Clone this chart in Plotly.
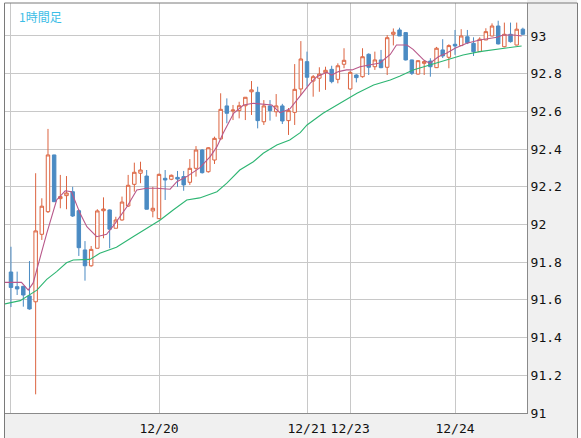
import plotly.graph_objects as go

# 1時間足  (index 0 = 12/19 00:00)
idx = list(range(84))
opn = [91.748, 91.670, 91.672, 91.621, 91.590, 91.948, 92.068, 92.369, 92.137, 92.153,
       92.174, 92.073, 91.865, 91.781, 91.874, 92.073, 92.077, 91.980, 92.024, 92.098,
       92.213, 92.272, 92.257, 92.072, 92.031, 92.245, 92.240, 92.250, 92.254, 92.224,
       92.298, 92.395, 92.280, 92.342, 92.454, 92.629, 92.602, 92.604, 92.630, 92.704,
       92.701, 92.545, 92.629, 92.598, 92.629, 92.551, 92.595, 92.719, 92.864, 92.761,
       92.776, 92.805, 92.823, 92.770, 92.850, 92.719, 92.793, 92.784, 92.903, 92.837,
       92.873, 92.834, 93.009, 93.032, 93.018, 92.873, 92.798, 92.855, 92.867, 92.832,
       92.926, 92.887, 92.956, 92.949, 92.996, 92.961, 92.917, 92.979, 93.000, 93.053,
       92.943, 93.009, 92.952, 93.036]
high = [91.882, 91.750, 91.674, 91.806, 92.272, 92.139, 92.507, 92.370, 92.263, 92.257,
        92.200, 92.080, 91.912, 91.886, 92.081, 92.144, 92.080, 92.041, 92.148, 92.263,
        92.328, 92.333, 92.289, 92.200, 92.270, 92.289, 92.265, 92.284, 92.284, 92.347,
        92.416, 92.400, 92.410, 92.466, 92.696, 92.669, 92.634, 92.651, 92.676, 92.761,
        92.731, 92.660, 92.660, 92.692, 92.640, 92.618, 92.851, 92.973, 92.917, 92.793,
        92.834, 92.837, 92.842, 92.855, 92.935, 92.814, 92.797, 92.935, 92.908, 92.917,
        92.926, 93.005, 93.040, 93.044, 93.020, 92.875, 92.870, 92.873, 92.882, 92.942,
        92.983, 92.956, 93.032, 93.036, 93.032, 92.993, 92.993, 93.041, 93.067, 93.081,
        93.071, 93.071, 93.071, 93.044]
low = [91.562, 91.626, 91.564, 91.548, 91.099, 91.918, 92.061, 92.120, 92.086, 92.081,
       92.040, 91.833, 91.702, 91.776, 91.874, 91.927, 91.874, 91.980, 92.020, 92.093,
       92.174, 92.219, 92.080, 92.038, 92.030, 92.130, 92.235, 92.200, 92.179, 92.210,
       92.254, 92.270, 92.275, 92.321, 92.448, 92.537, 92.554, 92.563, 92.554, 92.581,
       92.510, 92.528, 92.551, 92.572, 92.533, 92.475, 92.528, 92.687, 92.731, 92.678,
       92.704, 92.714, 92.749, 92.749, 92.829, 92.714, 92.754, 92.779, 92.793, 92.820,
       92.829, 92.793, 92.950, 93.000, 92.870, 92.793, 92.795, 92.793, 92.784, 92.830,
       92.883, 92.829, 92.900, 92.947, 92.957, 92.894, 92.915, 92.978, 92.998, 92.955,
       92.940, 92.965, 92.950, 93.005]
close = [91.666, 91.658, 91.626, 91.552, 91.966, 92.097, 92.369, 92.121, 92.148, 92.167,
         92.045, 91.877, 91.781, 91.868, 92.072, 92.082, 91.975, 92.024, 92.119, 92.208,
         92.277, 92.289, 92.081, 92.086, 92.266, 92.236, 92.261, 92.241, 92.210, 92.298,
         92.395, 92.275, 92.407, 92.457, 92.611, 92.590, 92.607, 92.630, 92.675, 92.714,
         92.551, 92.629, 92.604, 92.629, 92.549, 92.604, 92.717, 92.878, 92.781, 92.784,
         92.798, 92.818, 92.758, 92.842, 92.871, 92.807, 92.779, 92.890, 92.834, 92.873,
         92.832, 92.991, 93.020, 93.000, 92.873, 92.802, 92.869, 92.864, 92.837, 92.935,
         92.894, 92.949, 92.947, 93.000, 92.964, 92.917, 92.983, 93.023, 93.053, 92.958,
         93.009, 92.970, 93.036, 93.009]

# 短期移動平均 (読み取り値)
ma_s_x = [-1.1, 1.7, 2.8, 3.6, 5.8, 7.4, 8.8, 9.8, 11.2, 12.3, 13.9, 15.5, 16.9, 18.8,
          20.4, 22.0, 23.6, 25.8, 26.9, 28.5, 30.6, 32.3, 33.4, 34.4, 36.1, 37.7, 39.3,
          40.9, 42.3, 43.6, 45.2, 46.9, 48.5, 49.6, 51.2, 52.0, 53.1, 54.4, 55.3, 56.6,
          58.2, 59.8, 61.5, 62.5, 64.2, 65.2, 66.9, 67.9, 69.3, 70.6, 72.0, 73.9, 76.0,
          77.7, 78.8, 79.8, 81.5, 82.8]
ma_s = [91.693, 91.693, 91.652, 91.690, 91.953, 92.130, 92.179, 92.174, 92.059, 91.988,
        91.935, 91.948, 92.006, 92.094, 92.183, 92.192, 92.192, 92.187, 92.227, 92.254,
        92.300, 92.360, 92.413, 92.484, 92.590, 92.634, 92.643, 92.638, 92.634, 92.593,
        92.612, 92.682, 92.749, 92.784, 92.807, 92.793, 92.811, 92.820, 92.820, 92.837,
        92.846, 92.857, 92.902, 92.952, 92.952, 92.929, 92.873, 92.855, 92.890, 92.908,
        92.935, 92.961, 92.979, 92.988, 92.993, 93.005, 93.005, 93.000]

# 長期移動平均 (読み取り値)
ma_l_x = [-1.1, 1.5, 4.2, 5.8, 7.4, 9.0, 10.1, 12.8, 14.4, 17.1, 19.8, 22.0, 24.2, 26.3,
          28.5, 30.6, 33.4, 35.0, 37.1, 39.3, 40.9, 43.1, 45.2, 46.9, 48.0, 50.6, 53.4,
          56.1, 58.8, 61.5, 63.1, 65.2, 67.9, 70.6, 73.3, 76.0, 78.8, 81.5, 82.8]
ma_l = [91.578, 91.596, 91.652, 91.709, 91.750, 91.797, 91.812, 91.815, 91.847, 91.879,
        91.935, 91.980, 92.024, 92.077, 92.130, 92.141, 92.174, 92.219, 92.289, 92.333,
        92.378, 92.422, 92.448, 92.487, 92.528, 92.590, 92.643, 92.696, 92.740, 92.767,
        92.788, 92.820, 92.846, 92.873, 92.899, 92.917, 92.929, 92.940, 92.947]

tick_pos = [0, 24, 48, 55, 72]
tick_text = ["", "12/20", "12/21", "12/23", "12/24"]

RED = "#dc6440"
BLUE = "#4b8bc3"
W, H = 581, 438
L, R, T, B = 5, 54, 3, 25
pw, ph = W - L - R, H - T - B

def px(x):
    return (x - L) / pw

def py(y):
    return (H - B - y) / ph

fig = go.Figure()
fig.add_trace(go.Candlestick(
    x=idx, open=opn, high=high, low=low, close=close,
    increasing=dict(line=dict(color=RED, width=1), fillcolor="white"),
    decreasing=dict(line=dict(color=BLUE, width=1), fillcolor=BLUE),
    whiskerwidth=0, hoverinfo="skip"))
fig.add_trace(go.Scatter(x=ma_l_x, y=ma_l, mode="lines",
                         line=dict(color="#2db572", width=1.1), hoverinfo="skip"))
fig.add_trace(go.Scatter(x=ma_s_x, y=ma_s, mode="lines",
                         line=dict(color="#b8588a", width=1.1), hoverinfo="skip"))

axfont = dict(family="DejaVu Sans Mono", size=13, color="#111")
fig.update_xaxes(range=[-0.97, 83.67], tickvals=tick_pos, ticktext=tick_text,
                 showgrid=True, gridcolor="#c8c8c8", gridwidth=1, zeroline=False,
                 showline=True, linecolor="#8a8a8a", ticks="", tickfont=axfont,
                 ticklabelstandoff=3, rangeslider_visible=False)
fig.update_yaxes(side="right", range=[91.0, 93.175], tick0=91, dtick=0.2,
                 showgrid=True, gridcolor="#c8c8c8", gridwidth=1, zeroline=False,
                 showline=True, linecolor="#8a8a8a", ticks="", tickfont=axfont)

shapes = [
    # 右と下のグレー領域
    dict(type="rect", xref="paper", yref="paper", x0=1, x1=px(577), y0=py(H + 2), y1=py(0),
         fillcolor="#f0f0f0", line_width=0, layer="below"),
    dict(type="rect", xref="paper", yref="paper", x0=px(4), x1=1, y0=py(H + 2), y1=0,
         fillcolor="#f0f0f0", line_width=0, layer="below"),
    # 外枠
    dict(type="rect", xref="paper", yref="paper", x0=px(4.5), x1=px(577.5), y0=py(H + 5), y1=1,
         line=dict(color="#7a7a7a", width=1), fillcolor="rgba(0,0,0,0)", layer="above"),
]

fig.update_layout(
    width=W, height=H, margin=dict(l=L, r=R, t=T, b=B, pad=0),
    paper_bgcolor="white", plot_bgcolor="white",
    showlegend=False, hovermode=False, boxgap=0.2,
    shapes=shapes,
    annotations=[dict(text="1時間足", xref="paper", yref="paper", x=px(17), y=py(6),
                      xanchor="left", yanchor="top", showarrow=False,
                      font=dict(family="Noto Sans CJK JP", size=12, color="#3cbde6"))],
)

# ページの余白をなくす
fig.write_html("out.html", config={"displayModeBar": False},
               post_script="document.body.style.margin='0';")
